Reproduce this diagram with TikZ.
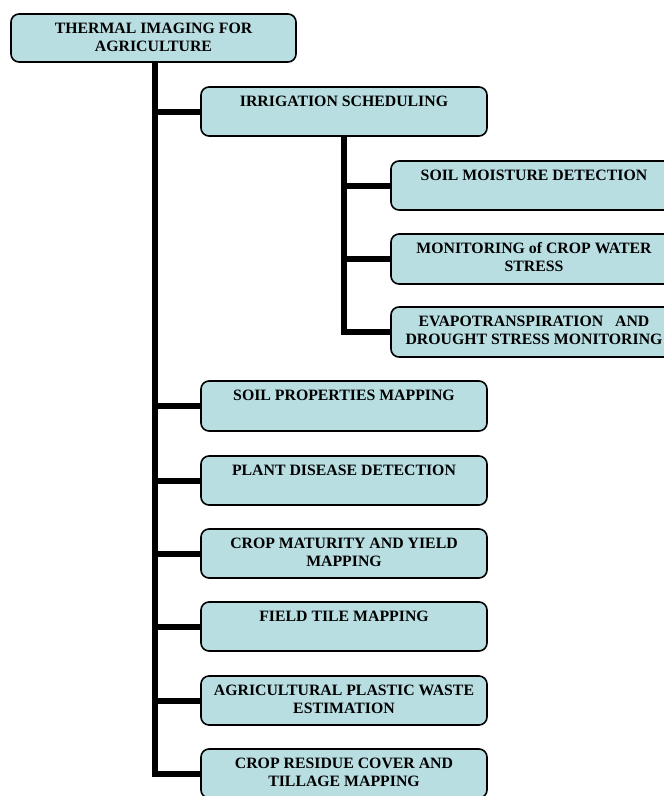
\documentclass[tikz,border=0pt]{standalone}
\usepackage{fontspec}
\setmainfont{Liberation Serif}
\definecolor{boxfill}{RGB}{184,222,226}
\newcommand{\bxt}[3]{\parbox[c][#1][t]{#2}{\centering\rule{0pt}{19.5pt}\ignorespaces#3}}
\tikzset{
  box/.style={draw=black, line width=1.6pt, rounded corners=8pt, fill=boxfill,
    inner sep=0pt, outer sep=0pt, anchor=north west,
    font=\fontsize{15.8}{18}\selectfont\bfseries},
  link/.style={draw=black, line width=6pt, line join=miter, line cap=butt}
}
\begin{document}
\begin{tikzpicture}[x=1pt,y=-1pt]
\useasboundingbox (0,0) rectangle (664,796);
% nodes
\node[box] (top) at (11,14) {\bxt{48pt}{285pt}{THERMAL IMAGING FOR\\AGRICULTURE}};
\node[box] (irr) at (201,87) {\bxt{49pt}{286pt}{IRRIGATION SCHEDULING}};
\node[box] (smd) at (391,161) {\bxt{49pt}{286pt}{SOIL MOISTURE DETECTION}};
\node[box] (mcw) at (391,234) {\bxt{50pt}{286pt}{MONITORING of CROP WATER\\STRESS}};
\node[box] (evd) at (391,307) {\bxt{50pt}{286pt}{EVAPOTRANSPIRATION\ \ \ AND\\DROUGHT STRESS MONITORING}};
\node[box] (spm) at (201,381) {\bxt{50pt}{286pt}{SOIL PROPERTIES MAPPING}};
\node[box] (pdd) at (201,456) {\bxt{49pt}{286pt}{PLANT DISEASE DETECTION}};
\node[box] (cmy) at (201,529) {\bxt{49pt}{286pt}{CROP MATURITY AND YIELD\\MAPPING}};
\node[box] (ftm) at (201,602) {\bxt{49pt}{286pt}{FIELD TILE MAPPING}};
\node[box] (apw) at (201,676) {\bxt{49pt}{286pt}{AGRICULTURAL PLASTIC WASTE\\ESTIMATION}};
\node[box] (crt) at (201,749) {\bxt{49pt}{286pt}{CROP RESIDUE COVER AND\\TILLAGE MAPPING}};
% trunk coordinates
\coordinate (tr1) at (155,0);
\coordinate (tr2) at (344,0);
% main trunk
\draw[link] (top.south -| tr1) |- (crt.west);
\foreach \n in {irr,spm,pdd,cmy,ftm,apw}{
  \draw[link] (tr1 |- \n.west) -- (\n.west);
}
% irrigation sub-trunk
\draw[link] (irr.south -| tr2) |- (evd.west);
\foreach \n in {smd,mcw}{
  \draw[link] (tr2 |- \n.west) -- (\n.west);
}
\end{tikzpicture}
\end{document}
